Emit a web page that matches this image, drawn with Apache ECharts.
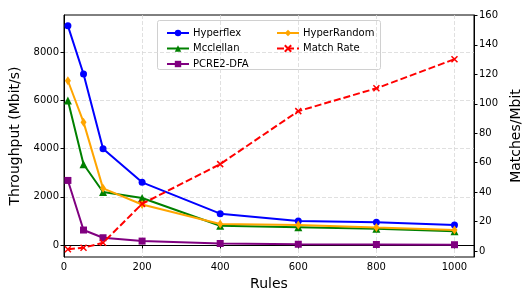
<!DOCTYPE html>
<html><head><meta charset="utf-8">
<script src="https://cdn.jsdelivr.net/npm/echarts@6/dist/echarts.min.js"></script>
<style>html,body{margin:0;padding:0;background:#fff}#c{width:532px;height:304px}</style>
</head><body><div id="c"></div>
<script>
const rules = [10, 50, 100, 200, 400, 600, 800, 1000];
const hyperflex = [9100, 7100, 4000, 2600, 1300, 1000, 940, 830];
const mcclellan = [6000, 3350, 2200, 1950, 800, 740, 670, 570];
const hyperRandom = [6820, 5100, 2350, 1680, 870, 830, 720, 620];
const pcre2dfa = [2680, 620, 300, 160, 60, 30, 20, 10];
const matchRate = [1.2, 2.2, 5.6, 32, 59, 95, 110.5, 130.3];
const leftTicks = [0, 2000, 4000, 6000, 8000];
const rightTicks = [0, 20, 40, 60, 80, 100, 120, 140, 160];

const font = 'DejaVu Sans';
const pairs = (ys) => rules.map((x, i) => [x, ys[i]]);
function ser(name, ys, color, symbol, size, yAxisIndex, dashed) {
  return {
    name, type: 'line', data: pairs(ys), yAxisIndex: yAxisIndex || 0,
    symbol, symbolSize: size, showSymbol: true,
    lineStyle: { color, width: 2, type: dashed ? [7, 3] : 'solid' },
    itemStyle: dashed ? { color: 'rgba(0,0,0,0)', borderColor: color, borderWidth: 1.5 } : { color, borderWidth: 0 },
    emphasis: { disabled: true }, animation: false, z: yAxisIndex ? 3 : 2
  };
}
const chart = echarts.init(document.getElementById('c'), null, { renderer: 'canvas' });
const crossPath = 'path://M0,0 L10,10 M10,0 L0,10';
const legendCommon = {
  orient: 'vertical', top: 22, itemWidth: 22, itemHeight: 8, itemGap: 3.5,
  textStyle: { fontFamily: font, fontSize: 10, lineHeight: 12, color: '#000', padding: [0, 0, 0, -1] }
};
chart.setOption({
  animation: false,
  grid: { left: 64, right: 58, top: 15, bottom: 47, show: true, borderColor: '#000', borderWidth: 1, backgroundColor: 'transparent' },
  xAxis: {
    type: 'value', min: 0, max: 1050, interval: 200,
    name: 'Rules', nameLocation: 'middle', nameGap: 20,
    nameTextStyle: { fontFamily: font, fontSize: 14, color: '#000' },
    axisLine: { show: true, lineStyle: { color: '#000', width: 1 } },
    axisTick: { show: true, length: 3.5, lineStyle: { color: '#000' } },
    axisLabel: { fontFamily: font, fontSize: 10, color: '#000', margin: 5, showMaxLabel: false,
      formatter: v => (v % 200 === 0 ? String(v) : '') },
    splitLine: { show: true, lineStyle: { color: '#d8d8d8', type: [4, 2], width: 0.8 } }
  },
  yAxis: [{
    type: 'value', min: -500, max: 9550,
    axisTick: { show: true, length: 3.5, lineStyle: { color: '#000' }, customValues: leftTicks },
    axisLabel: { fontFamily: font, fontSize: 10, color: '#000', margin: 5, customValues: leftTicks,
      formatter: v => String(v) },
    name: 'Throughput (Mbit/s)', nameLocation: 'middle', nameGap: 37,
    nameTextStyle: { fontFamily: font, fontSize: 14, color: '#000' },
    axisLine: { show: true, lineStyle: { color: '#000', width: 1 } },
    splitLine: { show: true, lineStyle: { color: '#d8d8d8', type: [4, 2], width: 0.8 } }
  }, {
    type: 'value', min: -4.1, max: 160.3, position: 'right',
    axisTick: { show: true, length: 3.5, lineStyle: { color: '#000' }, customValues: rightTicks },
    axisLabel: { fontFamily: font, fontSize: 10, color: '#000', margin: 5, customValues: rightTicks,
      formatter: v => String(v) },
    name: 'Matches/Mbit', nameLocation: 'middle', nameGap: 30, nameRotate: 90,
    nameTextStyle: { fontFamily: font, fontSize: 14, color: '#000' },
    axisLine: { show: true, lineStyle: { color: '#000', width: 1 } },
    splitLine: { show: false }
  }],
  legend: [
    Object.assign({ data: ['Hyperflex', 'Mcclellan', 'PCRE2-DFA'], left: 161 }, legendCommon),
    Object.assign({ data: ['HyperRandom', 'Match Rate'], left: 271 }, legendCommon)
  ],
  graphic: [{
    type: 'rect', left: 157, top: 20, shape: { width: 223, height: 49, r: 2 },
    style: { fill: 'rgba(255,255,255,0.8)', stroke: '#d0d0d0', lineWidth: 1 }, z: 0, zlevel: 0
  }],
  series: [
    ser('Hyperflex', hyperflex, '#0000ff', 'circle', 7),
    ser('Mcclellan', mcclellan, '#008000', 'triangle', 8),
    ser('PCRE2-DFA', pcre2dfa, '#800080', 'rect', 7),
    ser('HyperRandom', hyperRandom, '#ffa500', 'diamond', [6, 9]),
    ser('Match Rate', matchRate, '#ff0000', crossPath, 6, 1, true)
  ]
});
</script></body></html>
